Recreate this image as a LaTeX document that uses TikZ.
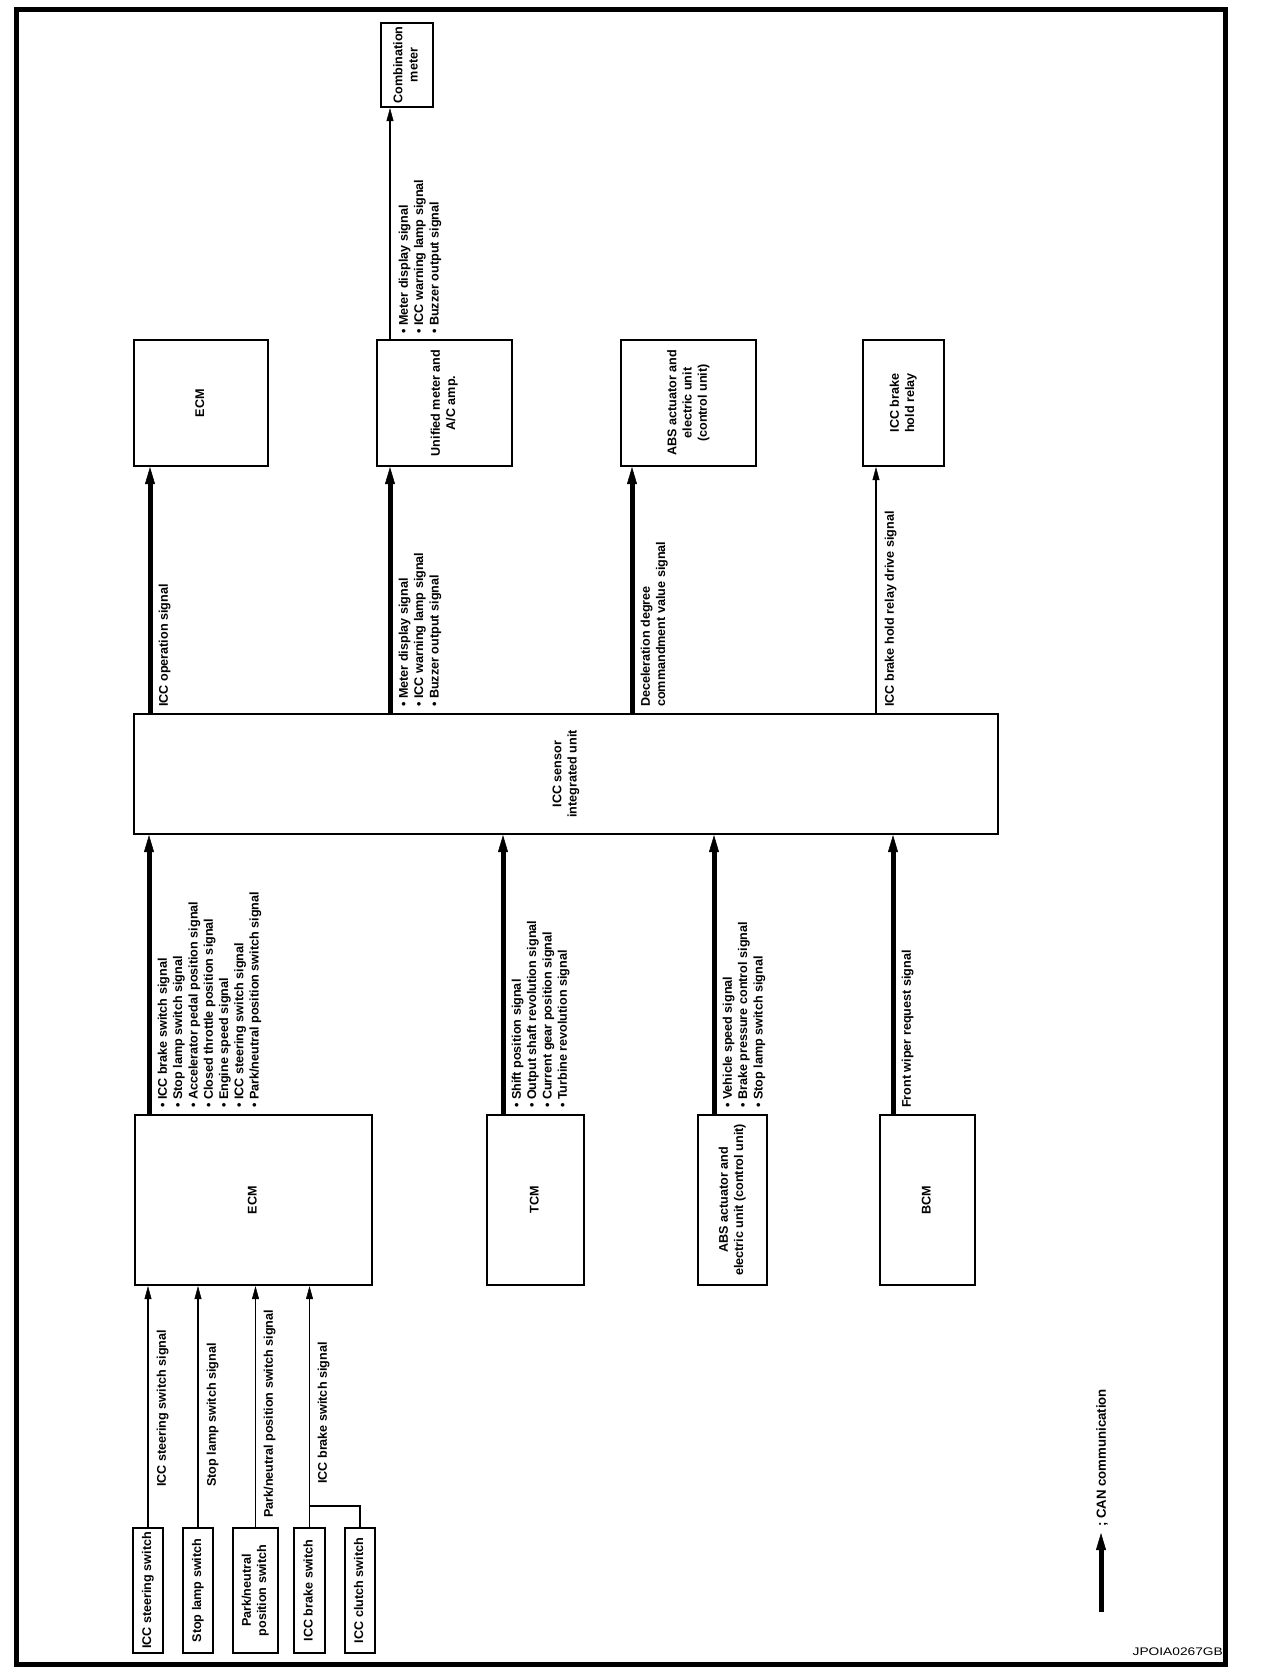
\documentclass[tikz,border=0pt]{standalone}
\usepackage{fontspec}
\setmainfont{Liberation Sans}
\usepackage{graphicx}
\usetikzlibrary{
  arrows.meta,
  positioning,
}

\newcommand{\vt}[1]{\rotatebox{90}{\begin{tabular}{@{}c@{}}#1\end{tabular}}}
\newcommand{\vl}[1]{\rotatebox{90}{\begin{tabular}{@{}l@{}}#1\end{tabular}}}
\newcommand{\bu}{\textbullet\ }

\begin{document}
\begin{tikzpicture}[
  x=1pt, y=-1pt,
  every node/.style={font=\fontsize{12.6}{15.3}\selectfont\bfseries},
  box/.style={
    rectangle, draw, line width=2.2pt,
    inner sep=0pt, align=center,
  },
  can/.style={-{Triangle[length=17pt, width=10pt, line width=0.5pt]}, line width=5pt},
  sig/.style={-{Triangle[length=13pt, width=7pt, line width=0.5pt]}, line width=1.6pt},
  wire/.style={line width=1.6pt},
  lbl/.style={anchor=south west, inner sep=0pt},
]
  \useasboundingbox (0,0) rectangle (1280,1678);
  \draw[line width=5pt] (16,10) rectangle (1225,1664);

  % Receiving units
  \node[box, minimum width=52pt, minimum height=84pt] (combo) at (407,65) {\vt{Combination\\meter}};
  \node[box, minimum width=134pt, minimum height=126pt] (ecmT) at (201,403) {\vt{ECM}};
  \node[box, minimum width=135pt, minimum height=126pt] (umeter) at (444.5,403) {\vt{Unified meter and\\A/C amp.}};
  \node[box, minimum width=135pt, minimum height=126pt] (absT) at (688.5,403) {\vt{ABS actuator and\\electric unit\\(control unit)}};
  \node[box, minimum width=81pt, minimum height=126pt] (relay) at (903.5,403) {\vt{ICC brake\\hold relay}};

  % Sensor unit
  \node[box, minimum width=864pt, minimum height=120pt] (sensor) at (566,774) {\vt{ICC sensor\\integrated unit}};

  % Sending units
  \node[box, minimum width=237pt, minimum height=170pt] (ecmB) at (253.5,1200) {\vt{ECM}};
  \node[box, minimum width=97pt, minimum height=170pt] (tcm) at (535.5,1200) {\vt{TCM}};
  \node[box, minimum width=69pt, minimum height=170pt] (absB) at (732.5,1200) {\vt{ABS actuator and\\electric unit (control unit)}};
  \node[box, minimum width=95pt, minimum height=170pt] (bcm) at (927.5,1200) {\vt{BCM}};

  % Switches
  \node[box, minimum width=30pt, minimum height=125pt] (steer) at (148,1590.5) {\vt{ICC steering switch}};
  \node[box, minimum width=30pt, minimum height=125pt] (stop) at (198,1590.5) {\vt{Stop lamp switch}};
  \node[box, minimum width=45pt, minimum height=125pt] (park) at (255.5,1590.5) {\vt{Park/neutral\\position switch}};
  \node[box, minimum width=31pt, minimum height=125pt] (brake) at (309.5,1590.5) {\vt{ICC brake switch}};
  \node[box, minimum width=30pt, minimum height=125pt] (clutch) at (360,1590.5) {\vt{ICC clutch switch}};

  % Arrow columns
  \coordinate (xEcmT) at (150,0);
  \coordinate (xMeter) at (390,0);
  \coordinate (xAbsT) at (632,0);
  \coordinate (xRelay) at (876,0);
  \coordinate (xEcmB) at (149,0);
  \coordinate (xTcm) at (503,0);
  \coordinate (xAbsB) at (714,0);
  \coordinate (xBcm) at (893,0);

  % Arrows: sensor -> receiving units
  \draw[can] (sensor.north -| xEcmT) -- (ecmT.south -| xEcmT);
  \draw[can] (sensor.north -| xMeter) -- (umeter.south -| xMeter);
  \draw[can] (sensor.north -| xAbsT) -- (absT.south -| xAbsT);
  \draw[sig] (sensor.north -| xRelay) -- (relay.south -| xRelay);
  \draw[sig] (umeter.north -| xMeter) -- (combo.south -| xMeter);

  % Arrows: sending units -> sensor
  \draw[can] (ecmB.north -| xEcmB) -- (sensor.south -| xEcmB);
  \draw[can] (tcm.north -| xTcm) -- (sensor.south -| xTcm);
  \draw[can] (absB.north -| xAbsB) -- (sensor.south -| xAbsB);
  \draw[can] (bcm.north -| xBcm) -- (sensor.south -| xBcm);

  % Arrows: switches -> ECM
  \draw[sig] (steer.north) -- (ecmB.south -| steer.north);
  \draw[sig] (stop.north) -- (ecmB.south -| stop.north);
  \draw[sig] (park.north) -- (ecmB.south -| park.north);
  \draw[sig] (brake.north) -- (ecmB.south -| brake.north);
  \coordinate (join) at (309.5,1506);
  \draw[wire] (clutch.north) |- (join);

  % Signal labels
  \node[lbl] (lOp) at (157,707) {\vl{ICC operation signal}};
  \node[lbl] (lMeter) at (397,707) {\vl{\bu Meter display signal\\\bu ICC warning lamp signal\\\bu Buzzer output signal}};
  \node[lbl] (lDecel) at (639,707) {\vl{Deceleration degree\\commandment value signal}};
  \node[lbl] (lRelay) at (883,707) {\vl{ICC brake hold relay drive signal}};
  \node[lbl] (lCombo) at (397,334) {\vl{\bu Meter display signal\\\bu ICC warning lamp signal\\\bu Buzzer output signal}};

  \node[lbl] (lEcm) at (156,1108) {\vl{\bu ICC brake switch signal\\\bu Stop lamp switch signal\\\bu Accelerator pedal position signal\\\bu Closed throttle position signal\\\bu Engine speed signal\\\bu ICC steering switch signal\\\bu Park/neutral position switch signal}};
  \node[lbl] (lTcm) at (510,1108) {\vl{\bu Shift position signal\\\bu Output shaft revolution signal\\\bu Current gear position signal\\\bu Turbine revolution signal}};
  \node[lbl] (lAbs) at (721,1108) {\vl{\bu Vehicle speed signal\\\bu Brake pressure control signal\\\bu Stop lamp switch signal}};
  \node[lbl] (lBcm) at (900,1108) {\vl{Front wiper request signal}};

  \node[lbl] (lSteer) at (155,1487) {\vl{ICC steering switch signal}};
  \node[lbl] (lStop) at (205,1487) {\vl{Stop lamp switch signal}};
  \node[lbl] (lPark) at (262,1518) {\vl{Park/neutral position switch signal}};
  \node[lbl] (lBrake) at (316,1484) {\vl{ICC brake switch signal}};

  % Legend
  \coordinate (canS) at (1101,1612);
  \coordinate (canE) at (1101,1533);
  \draw[can] (canS) -- (canE);
  \node[anchor=south, inner sep=0pt, font=\fontsize{13.2}{15}\selectfont\bfseries] (canTxt) at (1102,1527) {\rotatebox{90}{; CAN communication}};

  \node[anchor=base east, inner sep=0pt, font=\fontsize{11}{13}\selectfont] (code) at (1223,1655) {\scalebox{1.25}[1]{JPOIA0267GB}};
\end{tikzpicture}
\end{document}
